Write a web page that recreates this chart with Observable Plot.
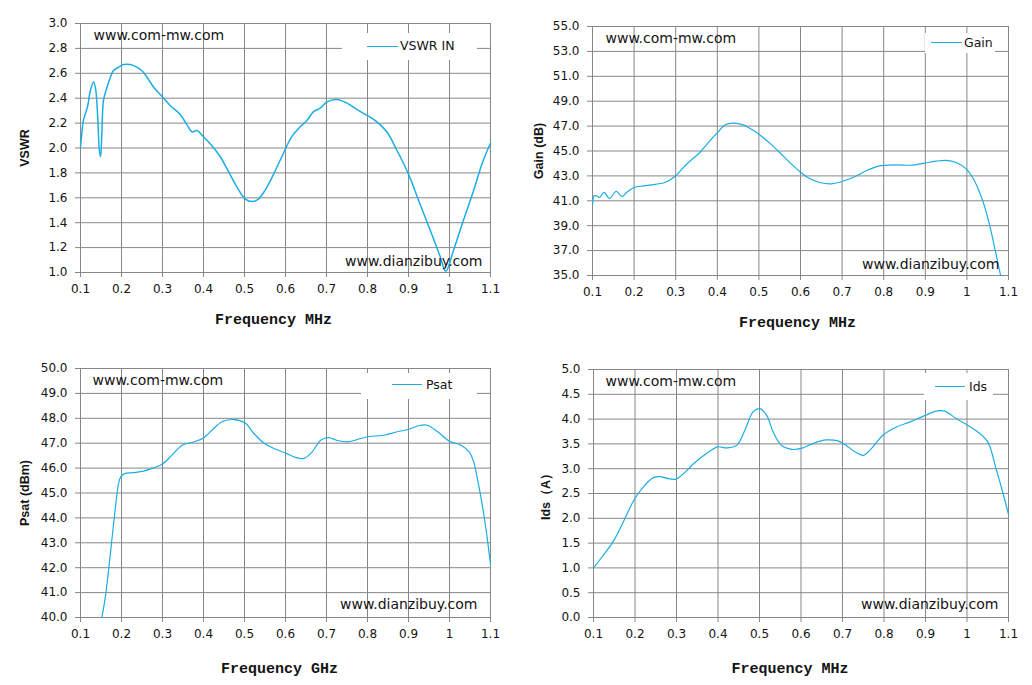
<!DOCTYPE html>
<html>
<head>
<meta charset="utf-8">
<script src="https://cdn.jsdelivr.net/npm/d3@7"></script>
<script src="https://cdn.jsdelivr.net/npm/@observablehq/plot@0.6"></script>
<style>
  body { margin: 0; background: #fff; }
  #wrap { position: relative; width: 1032px; height: 685px; overflow: hidden; background: #fff; }
  .panel { position: absolute; }
  .legend { position: absolute; background: #fff; }
  .legend .ln { position: absolute; height: 0; border-top: 1.3px solid #1AADE6; }
  .legend .tx { position: absolute; font-family: "DejaVu Sans"; font-size: 12.5px; color: #141414; line-height: 14px; white-space: nowrap; }
</style>
</head>
<body>
<div id="wrap"></div>
<script>
// ---------- data ----------
const xTicks = [0.1, 0.2, 0.3, 0.4, 0.5, 0.6, 0.7, 0.8, 0.9, 1, 1.1];

const vswrTicks = [1.0, 1.2, 1.4, 1.6, 1.8, 2.0, 2.2, 2.4, 2.6, 2.8, 3.0];
const vswrFreq = [0.100, 0.103, 0.107, 0.117, 0.124, 0.132, 0.137, 0.142, 0.146, 0.149, 0.152, 0.156, 0.163, 0.171, 0.180, 0.193, 0.205, 0.221, 0.237, 0.250, 0.262, 0.278, 0.300, 0.319, 0.343, 0.359, 0.372, 0.384, 0.400, 0.420, 0.441, 0.461, 0.481, 0.502, 0.520, 0.534, 0.550, 0.571, 0.591, 0.601, 0.615, 0.636, 0.652, 0.668, 0.685, 0.701, 0.725, 0.750, 0.774, 0.800, 0.823, 0.847, 0.872, 0.900, 0.928, 0.953, 0.977, 0.991, 1.010, 1.034, 1.059, 1.079, 1.100];
const vswrVal  = [2.01, 2.11, 2.22, 2.33, 2.46, 2.53, 2.47, 2.25, 1.98, 1.93, 2.11, 2.38, 2.47, 2.55, 2.62, 2.65, 2.67, 2.67, 2.65, 2.62, 2.57, 2.49, 2.41, 2.34, 2.27, 2.19, 2.13, 2.14, 2.09, 2.02, 1.93, 1.81, 1.69, 1.59, 1.57, 1.59, 1.66, 1.79, 1.93, 2.00, 2.09, 2.17, 2.22, 2.29, 2.32, 2.37, 2.39, 2.36, 2.31, 2.26, 2.21, 2.13, 1.98, 1.79, 1.55, 1.34, 1.13, 1.01, 1.18, 1.42, 1.66, 1.87, 2.04];

const gainTicks = [35, 37, 39, 41, 43, 45, 47, 49, 51, 53, 55];
const gainFreq = [0.100, 0.104, 0.110, 0.117, 0.128, 0.141, 0.157, 0.171, 0.182, 0.200, 0.222, 0.254, 0.274, 0.298, 0.326, 0.358, 0.382, 0.401, 0.418, 0.438, 0.462, 0.482, 0.500, 0.526, 0.550, 0.574, 0.598, 0.622, 0.646, 0.674, 0.698, 0.726, 0.758, 0.782, 0.800, 0.830, 0.870, 0.898, 0.926, 0.950, 0.974, 0.999, 1.018, 1.038, 1.054, 1.070, 1.081];
const gainVal  = [40.73, 41.40, 41.40, 41.27, 41.67, 41.19, 41.75, 41.35, 41.67, 42.07, 42.20, 42.34, 42.47, 42.95, 43.94, 44.88, 45.82, 46.49, 47.08, 47.24, 47.10, 46.75, 46.35, 45.63, 44.88, 44.08, 43.36, 42.79, 42.47, 42.36, 42.53, 42.87, 43.41, 43.73, 43.84, 43.89, 43.86, 44.02, 44.18, 44.24, 44.08, 43.54, 42.61, 41.00, 39.13, 36.72, 35.00];

const psatTicks = [40, 41, 42, 43, 44, 45, 46, 47, 48, 49, 50];
const psatFreq = [0.152, 0.160, 0.168, 0.176, 0.184, 0.192, 0.198, 0.207, 0.229, 0.254, 0.278, 0.300, 0.323, 0.348, 0.376, 0.400, 0.425, 0.445, 0.474, 0.501, 0.523, 0.547, 0.572, 0.602, 0.624, 0.645, 0.665, 0.686, 0.706, 0.726, 0.751, 0.775, 0.801, 0.840, 0.873, 0.901, 0.926, 0.946, 0.971, 1.000, 1.028, 1.048, 1.059, 1.068, 1.080, 1.091, 1.100];
const psatVal  = [40.00, 40.76, 41.83, 43.04, 44.24, 45.31, 45.65, 45.78, 45.82, 45.88, 46.01, 46.16, 46.52, 46.92, 47.05, 47.21, 47.59, 47.86, 47.95, 47.82, 47.39, 47.01, 46.79, 46.59, 46.43, 46.39, 46.65, 47.12, 47.22, 47.11, 47.05, 47.15, 47.26, 47.32, 47.46, 47.56, 47.71, 47.72, 47.46, 47.08, 46.92, 46.65, 46.25, 45.58, 44.51, 43.31, 42.13];

const idsTicks = [0.0, 0.5, 1.0, 1.5, 2.0, 2.5, 3.0, 3.5, 4.0, 4.5, 5.0];
const idsFreq = [0.100, 0.124, 0.148, 0.172, 0.199, 0.224, 0.244, 0.260, 0.280, 0.299, 0.317, 0.341, 0.373, 0.399, 0.421, 0.445, 0.465, 0.485, 0.501, 0.517, 0.533, 0.553, 0.577, 0.601, 0.629, 0.661, 0.689, 0.709, 0.730, 0.750, 0.770, 0.798, 0.830, 0.862, 0.898, 0.926, 0.946, 0.974, 0.999, 1.026, 1.050, 1.070, 1.086, 1.100];
const idsVal  = [1.00, 1.26, 1.54, 1.93, 2.39, 2.67, 2.82, 2.84, 2.80, 2.79, 2.90, 3.10, 3.31, 3.44, 3.42, 3.47, 3.78, 4.15, 4.21, 4.08, 3.74, 3.47, 3.39, 3.41, 3.51, 3.58, 3.56, 3.47, 3.34, 3.27, 3.41, 3.68, 3.84, 3.94, 4.07, 4.16, 4.16, 4.01, 3.89, 3.74, 3.54, 3.00, 2.53, 2.08];

const seriesNames = ["VSWR IN", "Gain", "Psat", "Ids"];
const yTitles = ["VSWR", "Gain (dB)", "Psat (dBm)", "Ids\uFF08A\uFF09"];
const xTitles = ["Frequency MHz", "Frequency MHz", "Frequency GHz", "Frequency MHz"];
const watermarkTop = "www.com-mw.com";
const watermarkBottom = "www.dianzibuy.com";

// ---------- layout ----------
const LINE = "#1AADE6";
const GRID = "#878787";
const TEXT = "#141414";

const panels = [
  {freq: vswrFreq, vals: vswrVal, ticks: vswrTicks, left: 0, top: 0, mL: 80, mR: 26, mT: 23, mB: 68, sw: 1.5,
   ytx: -56, xtdx: -12, xtdy: 47, wm: [13, 12, 8, 11],
   legend: {l: 342, t: 33, w: 135, h: 27, l1: 25, l2: 56, ly: 13.5, tx: 58}},
  {freq: gainFreq, vals: gainVal, ticks: gainTicks, left: 516, top: 0, mL: 76, mR: 24, mT: 26, mB: 65, sw: 1.2,
   ytx: -54, xtdx: -3, xtdy: 47, wm: [13, 12, 9, 11],
   legend: {l: 925, t: 33, w: 70, h: 20, l1: 6, l2: 37, ly: 10, tx: 39}},
  {freq: psatFreq, vals: psatVal, ticks: psatTicks, left: 0, top: 345, mL: 80, mR: 26, mT: 23, mB: 68, sw: 1.2,
   ytx: -56, xtdx: -6, xtdy: 51, wm: [12, 12, 13, 13],
   legend: {l: 361, t: 373, w: 116, h: 26, l1: 31, l2: 61, ly: 12, tx: 65}},
  {freq: idsFreq, vals: idsVal, ticks: idsTicks, left: 516, top: 345, mL: 77, mR: 24, mT: 24, mB: 68, sw: 1.2,
   ytx: -48, xtdx: -11, xtdy: 51, wm: [12, 12, 10, 13],
   legend: {l: 924, t: 373, w: 69, h: 27, l1: 11, l2: 41, ly: 14, tx: 45}}
];

const wrap = document.getElementById("wrap");
const fmtY = d3.format(".1f");
const fmtX = d => String(d);

panels.forEach((p, i) => {
  const rows = p.freq.map((f, j) => ({f, v: p.vals[j]}));
  const chart = Plot.plot({
    width: 516,
    height: 340,
    marginLeft: p.mL, marginRight: p.mR, marginTop: p.mT, marginBottom: p.mB,
    style: {fontFamily: "DejaVu Sans", fontSize: "12px", color: TEXT, background: "transparent", overflow: "visible"},
    x: {domain: [0.1, 1.1], label: null},
    y: {domain: [p.ticks[0], p.ticks[p.ticks.length - 1]], label: null},
    marks: [
      Plot.gridX(xTicks, {stroke: GRID, strokeOpacity: 1, strokeWidth: 1}),
      Plot.gridY(p.ticks, {stroke: GRID, strokeOpacity: 1, strokeWidth: 1}),
      Plot.frame({stroke: GRID, strokeWidth: 1}),
      Plot.axisX(xTicks, {tickFormat: fmtX, tickSize: 5, tickPadding: 7, stroke: GRID, fill: TEXT, fontSize: 12, label: null}),
      Plot.axisY(p.ticks, {tickFormat: fmtY, tickSize: 5, tickPadding: 8, stroke: GRID, fill: TEXT, fontSize: 12, label: null}),
      Plot.line(rows, {x: "f", y: "v", stroke: LINE, strokeWidth: p.sw, curve: "catmull-rom"}),
      Plot.text([watermarkTop], {frameAnchor: "top-left", dx: p.wm[0], dy: p.wm[1], textAnchor: "start", lineAnchor: "middle",
        fontFamily: "DejaVu Sans", fontSize: 14, fill: TEXT}),
      Plot.text([watermarkBottom], {frameAnchor: "bottom-right", dx: -p.wm[2], dy: -p.wm[3], textAnchor: "end", lineAnchor: "middle",
        fontFamily: "DejaVu Sans", fontSize: 14, fill: TEXT}),
      Plot.text([yTitles[i]], {frameAnchor: "left", dx: p.ytx, rotate: -90, textAnchor: "middle", lineAnchor: "middle",
        fontFamily: "Liberation Sans", fontWeight: "bold", fontSize: 12.5, fill: TEXT}),
      Plot.text([xTitles[i]], {frameAnchor: "bottom", dx: p.xtdx, dy: p.xtdy, textAnchor: "middle", lineAnchor: "middle",
        fontFamily: "Liberation Mono", fontWeight: "bold", fontSize: 15, fill: TEXT})
    ]
  });
  const holder = document.createElement("div");
  holder.className = "panel";
  holder.style.left = p.left + "px";
  holder.style.top = p.top + "px";
  holder.appendChild(chart);
  wrap.appendChild(holder);

  // legend box
  const L = p.legend;
  const box = document.createElement("div");
  box.className = "legend";
  Object.assign(box.style, {left: L.l + "px", top: L.t + "px", width: L.w + "px", height: L.h + "px"});
  const ln = document.createElement("div");
  ln.className = "ln";
  Object.assign(ln.style, {left: L.l1 + "px", width: (L.l2 - L.l1) + "px", top: (L.ly - 0.6) + "px"});
  const tx = document.createElement("div");
  tx.className = "tx";
  tx.textContent = seriesNames[i];
  Object.assign(tx.style, {left: L.tx + "px", top: (L.ly - 7.5) + "px"});
  box.appendChild(ln);
  box.appendChild(tx);
  wrap.appendChild(box);
});
</script>
</body>
</html>
